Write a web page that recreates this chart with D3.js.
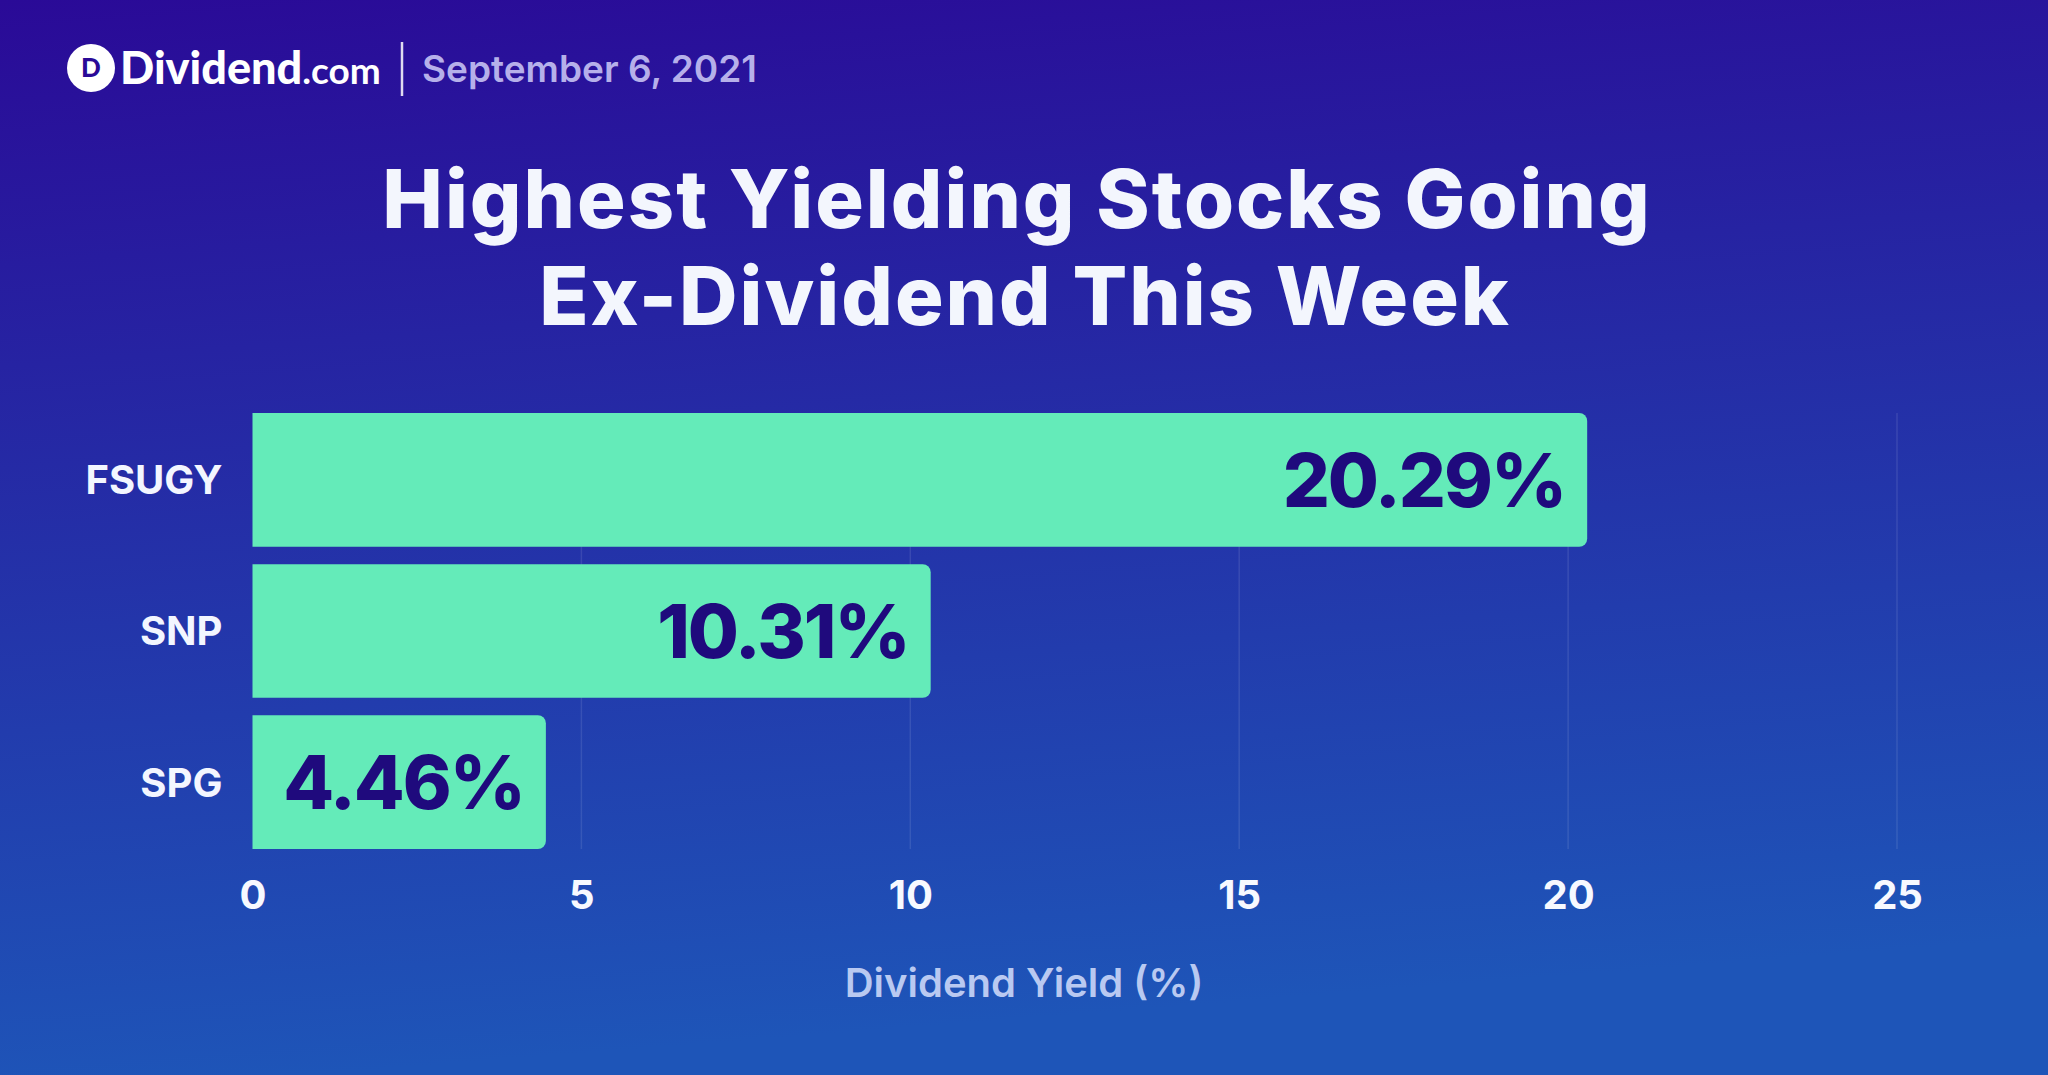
<!DOCTYPE html>
<html>
<head>
<meta charset="utf-8">
<script src="https://cdn.jsdelivr.net/npm/d3@7"></script>
<style>
  html, body { margin: 0; padding: 0; width: 2048px; height: 1075px; overflow: hidden; }
  svg { display: block; }
</style>
</head>
<body>
<svg id="chart" width="2048" height="1075"></svg>
<script>
// ---- data ----
const categories = ["FSUGY", "SNP", "SPG"];
const yields = [20.29, 10.31, 4.46];
const xTicks = [0, 5, 10, 15, 20, 25];
const titleLines = ["Highest Yielding Stocks Going", "Ex-Dividend This Week"];
const dateText = "September 6, 2021";
const axisTitle = "Dividend Yield (%)";

const W = 2048, H = 1075;
const svg = d3.select("#chart");

// background gradient
const defs = svg.append("defs");
const grad = defs.append("linearGradient").attr("id", "bg")
  .attr("x1", "0").attr("y1", "0").attr("x2", "0.15").attr("y2", "1");
grad.append("stop").attr("offset", "0%").attr("stop-color", "#2a0a97");
grad.append("stop").attr("offset", "100%").attr("stop-color", "#1e55b8");
svg.append("rect").attr("width", W).attr("height", H).attr("fill", "url(#bg)");

// header: logo
const logo = svg.append("g");
logo.append("circle").attr("cx", 91).attr("cy", 68).attr("r", 24).attr("fill", "#ffffff");
logo.append("text").attr("x", 91).attr("y", 77).attr("text-anchor", "middle")
  .attr("font-family", "Lato, 'Noto Sans', sans-serif").attr("font-weight", 900)
  .attr("font-size", 26).attr("fill", "#2a0a97").text("D");
const brand = logo.append("text").attr("x", 120).attr("y", 84)
  .attr("font-family", "Lato, 'Noto Sans', sans-serif").attr("font-weight", 900)
  .attr("fill", "#ffffff");
brand.append("tspan").attr("font-size", 45).text("Dividend");
brand.append("tspan").attr("font-size", 37).attr("font-weight", 700).text(".com");
logo.append("line").attr("x1", 402).attr("x2", 402).attr("y1", 42).attr("y2", 96)
  .attr("stroke", "#ffffff").attr("stroke-width", 2.5).attr("opacity", 0.85);
svg.append("text").attr("x", 422).attr("y", 82)
  .attr("font-family", "Inter, sans-serif").attr("font-weight", 600)
  .attr("font-size", 37).attr("fill", "#b6b0ea").text(dateText);

// title
svg.append("g").selectAll("text").data(titleLines).join("text")
  .attr("x", (d, i) => i === 0 ? 1017 : 1025).attr("y", (d, i) => 228 + i * 97)
  .attr("text-anchor", "middle")
  .attr("font-family", "Inter, sans-serif").attr("font-weight", 800)
  .attr("font-size", 81).attr("letter-spacing", 2).attr("fill", "#f3f6fd")
  .text(d => d);

// scales
const x = d3.scaleLinear().domain([0, 25]).range([252.5, 1897]);
const y = d3.scaleBand().domain(categories).range([413, 849]).paddingInner(0.115).paddingOuter(0);

// gridlines
svg.append("g").selectAll("line").data(xTicks.filter(t => t > 0)).join("line")
  .attr("x1", d => x(d)).attr("x2", d => x(d))
  .attr("y1", 413).attr("y2", 849)
  .attr("stroke", "#ffffff").attr("stroke-opacity", 0.1).attr("stroke-width", 1.5);

// bars with rounded right corners
const r = 8;
function barPath(v, cat) {
  const x0 = x(0), x1 = x(v), y0 = y(cat), h = y.bandwidth();
  const p = d3.path();
  p.moveTo(x0, y0);
  p.lineTo(x1 - r, y0);
  p.arcTo(x1, y0, x1, y0 + r, r);
  p.lineTo(x1, y0 + h - r);
  p.arcTo(x1, y0 + h, x1 - r, y0 + h, r);
  p.lineTo(x0, y0 + h);
  p.closePath();
  return p.toString();
}
const data = categories.map((c, i) => ({ cat: c, v: yields[i] }));
svg.append("g").selectAll("path").data(data).join("path")
  .attr("d", d => barPath(d.v, d.cat))
  .attr("fill", "#64ebb9");

// value labels
svg.append("g").selectAll("text").data(data).join("text")
  .attr("x", d => x(d.v) - 22)
  .attr("y", d => y(d.cat) + y.bandwidth() / 2 + 27)
  .attr("text-anchor", "end")
  .attr("font-family", "Inter, sans-serif").attr("font-weight", 800)
  .attr("font-size", 74).attr("letter-spacing", -2).attr("fill", "#1f0a7d")
  .text(d => d.v.toFixed(2) + "%");

// y axis labels
const yAxis = d3.axisLeft(y).tickSize(0).tickPadding(30);
const ya = svg.append("g").attr("transform", `translate(${x(0)},0)`).call(yAxis);
ya.select(".domain").remove();
ya.selectAll("text")
  .attr("font-family", "Inter, sans-serif").attr("font-weight", 700)
  .attr("font-size", 40).attr("fill", "#f3f6ff").attr("dy", "0.36em");

// x axis
const xAxis = d3.axisBottom(x).tickValues(xTicks).tickSize(0).tickPadding(0).tickFormat(d3.format("d"));
const xa = svg.append("g").attr("transform", "translate(0,880)").call(xAxis);
xa.select(".domain").remove();
xa.selectAll("text")
  .attr("font-family", "Inter, sans-serif").attr("font-weight", 700)
  .attr("font-size", 40).attr("fill", "#f7f9ff").attr("dy", "0.73em");

// axis title
svg.append("text").attr("x", W / 2).attr("y", 997).attr("text-anchor", "middle")
  .attr("font-family", "Inter, sans-serif").attr("font-weight", 600)
  .attr("font-size", 40).attr("fill", "#b9c9f1").text(axisTitle);
</script>
</body>
</html>
